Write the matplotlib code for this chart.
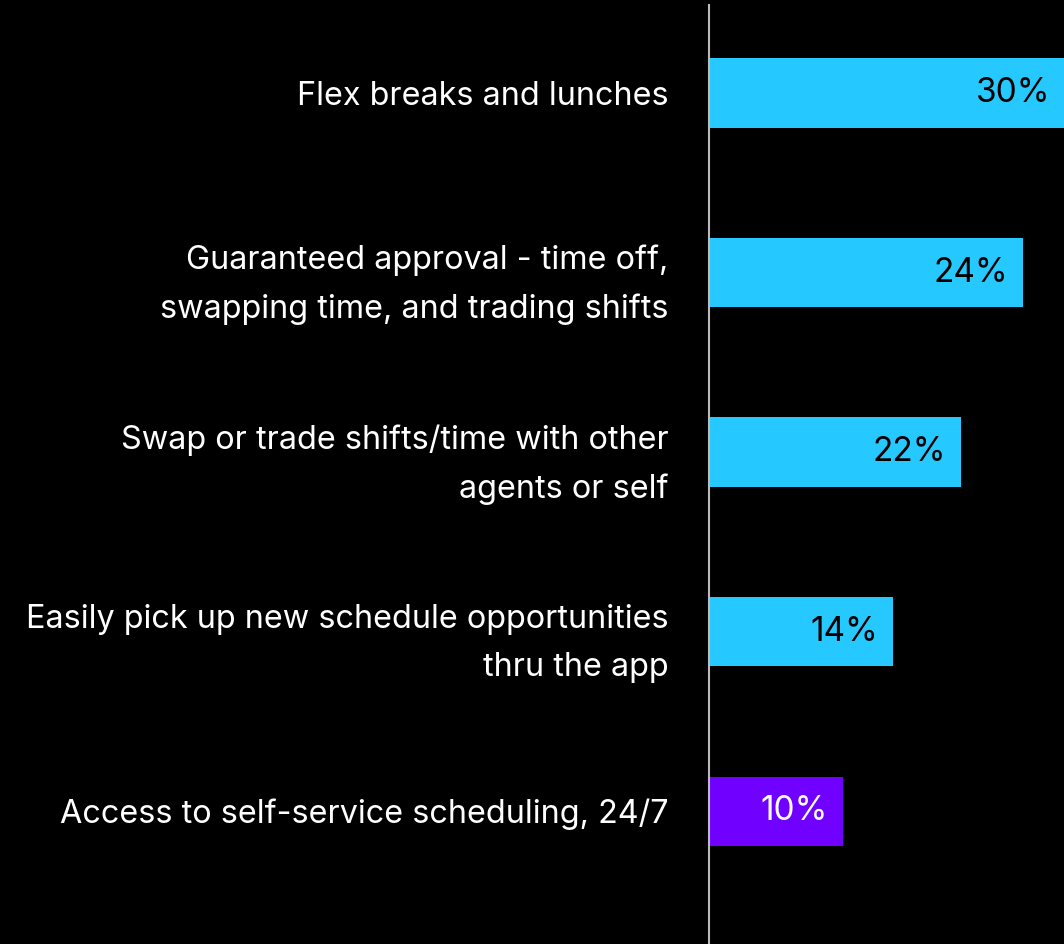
import matplotlib.pyplot as plt

# data
categories = ["Flex breaks and lunches",
              "Guaranteed approval - time off,\nswapping time, and trading shifts",
              "Swap or trade shifts/time with other\nagents or self",
              "Easily pick up new schedule opportunities\nthru the app",
              "Access to self-service scheduling, 24/7"]
bar_lengths = [30, 24, 19.2, 14, 10.2]
value_labels = ["30%", "24%", "22%", "14%", "10%"]
bar_colors = ["#26C9FF", "#26C9FF", "#26C9FF", "#26C9FF", "#7000FF"]
text_colors = ["black", "black", "black", "black", "white"]

plt.rcParams['font.family'] = ['Inter', 'DejaVu Sans']

fig = plt.figure(figsize=(10.64, 9.44), dpi=100, facecolor="black")
ax = fig.add_axes([709 / 1064, 0, 1 - 709 / 1064, 1 - 5 / 944])
ax.set_facecolor("black")

pos = list(range(len(categories)))
ax.barh(pos, bar_lengths, height=0.385, color=bar_colors, left=0.08)

xmax = 27.2
ax.set_xlim(0, xmax)
ax.set_ylim(4.74, -0.49)

for i, (v, lab) in enumerate(zip(bar_lengths, value_labels)):
    ax.annotate(lab, (min(v, xmax), i), xytext=(-10, 0), textcoords="offset points",
                ha="right", va="center", fontsize=24, color=text_colors[i])

ax.set_yticks(pos)
ax.set_yticklabels(categories, fontsize=23.3, color="white", linespacing=1.72)
ax.tick_params(axis="y", length=0, pad=29)
ax.set_xticks([])

for s in ["top", "right", "bottom"]:
    ax.spines[s].set_visible(False)
ax.spines["left"].set_color("#BBBBBB")
ax.spines["left"].set_linewidth(1.5)

fig.savefig("out.png", dpi=100, facecolor="black")
